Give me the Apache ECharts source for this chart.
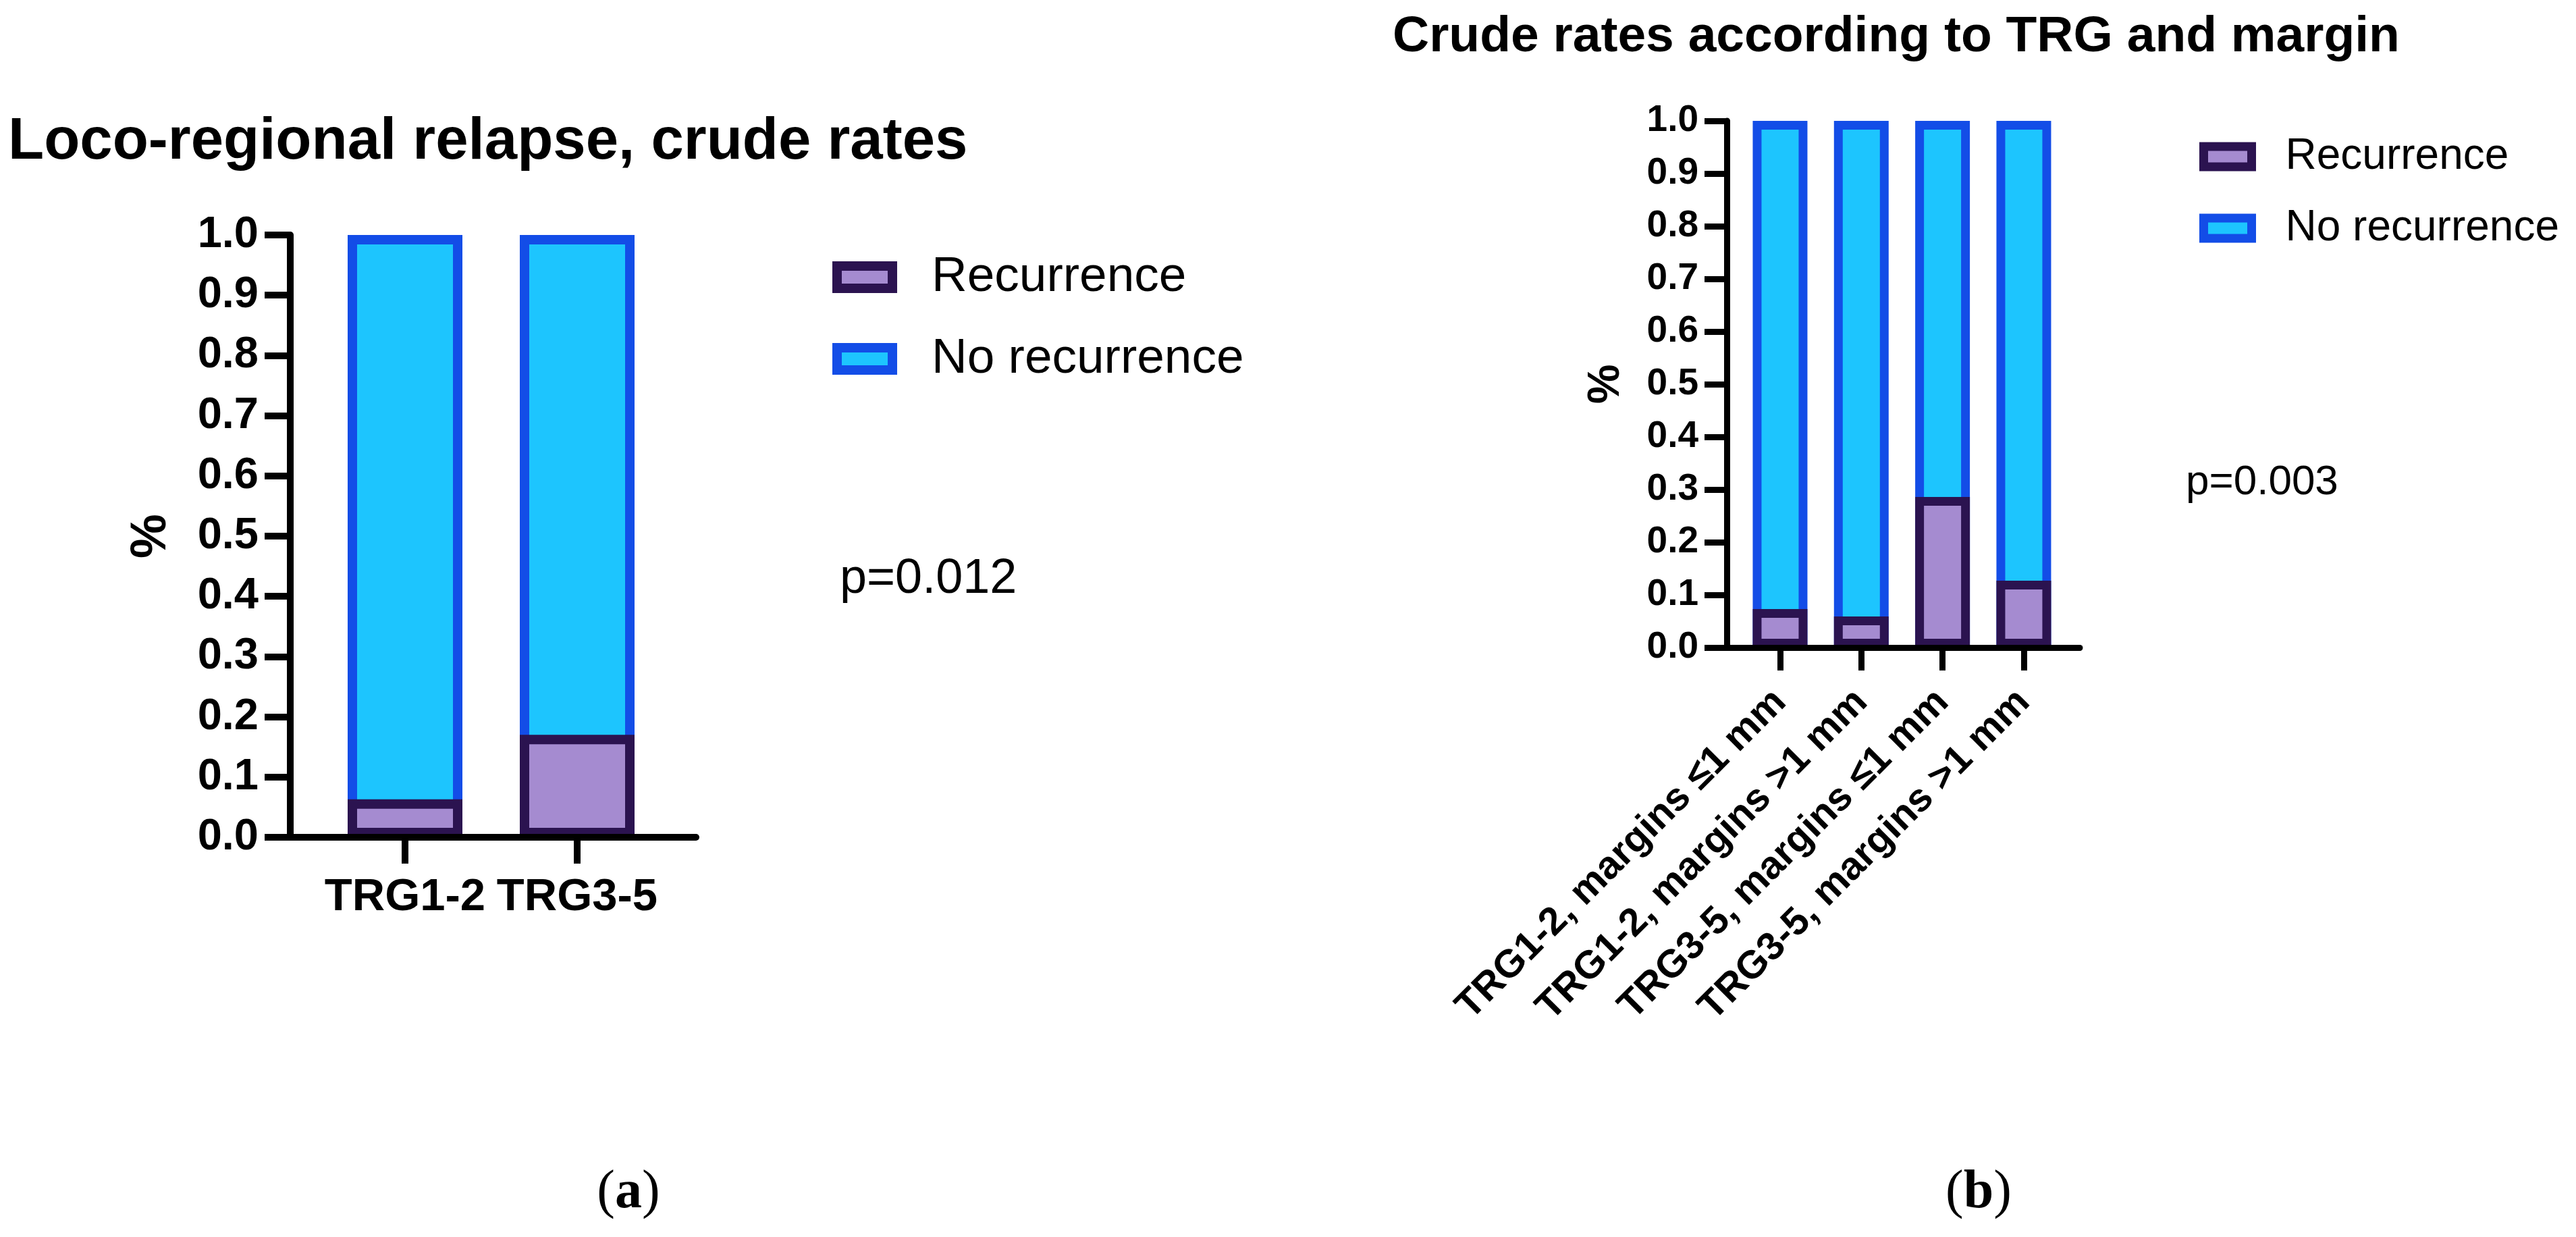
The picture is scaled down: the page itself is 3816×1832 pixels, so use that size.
<!DOCTYPE html>
<html>
<head>
<meta charset="utf-8">
<script src="https://cdn.jsdelivr.net/npm/echarts@6/dist/echarts.min.js"></script>
<style>
html,body{margin:0;padding:0;background:#ffffff;}
#c{width:3816px;height:1832px;}
</style>
</head>
<body>
<div id="c"></div>
<script>
// ---- data ----
const seriesNames = ['Recurrence', 'No recurrence'];
const catsA = ['TRG1-2', 'TRG3-5'];
const recA = [0.063, 0.17];
const noRecA = [0.937, 0.83];
const catsB = ['TRG1-2, margins \u22641 mm', 'TRG1-2, margins >1 mm', 'TRG3-5, margins \u22641 mm', 'TRG3-5, margins >1 mm'];
const recB = [0.073, 0.059, 0.286, 0.127];
const noRecB = [0.927, 0.941, 0.714, 0.873];
const yMin = 0, yMax = 1, yStep = 0.1;
const titleA = 'Loco-regional relapse, crude rates';
const titleB = 'Crude rates according to TRG and margin';
const pA = 'p=0.012';
const pB = 'p=0.003';
const panelA = 'a';
const panelB = 'b';

// stacked tops: "No recurrence" sits on top of "Recurrence"
const topA = noRecA.map((v, i) => v + recA[i]);
const topB = noRecB.map((v, i) => v + recB[i]);

// ---- style ----
const SANS = '"Liberation Sans", Arial, Helvetica, sans-serif';
const SERIF = '"Liberation Serif", "Times New Roman", Times, serif';
const REC_FILL = '#A58BD0', REC_LINE = '#2B1350';
const NO_FILL = '#1DC5FE', NO_LINE = '#134DE7';

function frameY(grid, fs, margin, tickLen, lw, nameSize, nameGap) {
  return {
    gridIndex: grid, type: 'value', min: yMin, max: yMax, interval: yStep, z: 4,
    axisLine: {show: true, lineStyle: {color: '#000', width: lw}},
    axisTick: {show: true, length: tickLen, lineStyle: {color: '#000', width: lw}},
    axisLabel: {formatter: v => v.toFixed(1), fontSize: fs, fontWeight: 'bold', color: '#000', margin: margin, fontFamily: SANS},
    splitLine: {show: false},
    name: '%', nameLocation: 'middle', nameGap: nameGap,
    nameTextStyle: {fontSize: nameSize, fontWeight: 'bold', color: '#000', fontFamily: SANS}
  };
}
function hiddenY(grid) {
  return {gridIndex: grid, type: 'value', min: yMin, max: yMax, interval: yStep, show: false};
}
function frameX(grid, lw) {
  return {
    gridIndex: grid, type: 'category', data: [''], z: 4,
    axisLine: {show: true, lineStyle: {color: '#000', width: lw}},
    axisTick: {show: false}, axisLabel: {show: false}, splitLine: {show: false}
  };
}
function barX(grid, cats, lw, tickLen, labelOpt) {
  return {
    gridIndex: grid, type: 'category', data: cats,
    axisLine: {show: false},
    axisTick: {show: true, alignWithLabel: true, length: tickLen, lineStyle: {color: '#000', width: lw}},
    axisLabel: Object.assign({interval: 0, color: '#000', fontWeight: 'bold', fontFamily: SANS}, labelOpt),
    splitLine: {show: false}
  };
}
function barSeries(name, axisIdx, data, width, bw, fill, line, z) {
  return {
    name: name, type: 'bar', xAxisIndex: axisIdx, yAxisIndex: axisIdx,
    data: data, barWidth: width, barGap: '-100%', z: z,
    itemStyle: {color: fill, borderColor: line, borderWidth: bw},
    emphasis: {disabled: true}
  };
}
function txt(x, y, text, size, weight) {
  return {type: 'text', x: x, y: y, silent: true,
    style: {text: text, fontSize: size, fontWeight: weight, fontFamily: SANS, fill: '#000', align: 'left', verticalAlign: 'top'}};
}
function panel(x, y, letter) {
  return {type: 'text', x: x, y: y, silent: true,
    style: {text: '{p|(}{b|' + letter + '}{p|)}', align: 'center', verticalAlign: 'top',
      rich: {p: {fontSize: 80, fontFamily: SERIF, fill: '#000'}, b: {fontSize: 80, fontFamily: SERIF, fontWeight: 'bold', fill: '#000'}}}};
}

const chart = echarts.init(document.getElementById('c'), null, {renderer: 'canvas'});
chart.setOption({
  backgroundColor: '#ffffff',
  animation: false,
  grid: [
    {left: 430, top: 348, width: 601, height: 892},
    {left: 472.5, top: 348, width: 510, height: 892},
    {left: 2558, top: 179, width: 523, height: 780},
    {left: 2576.8, top: 179, width: 481.3, height: 780}
  ],
  xAxis: [
    frameX(0, 10),
    barX(1, catsA, 10, 39, {fontSize: 67, margin: 56}),
    frameX(2, 9),
    barX(3, catsB, 9, 34, {fontSize: 58, margin: 72, rotate: 45})
  ],
  yAxis: [
    frameY(0, 65, 47, 38, 10, 74, 168),
    hiddenY(1),
    frameY(2, 55, 42, 33, 9, 66, 145),
    hiddenY(3)
  ],
  legend: [
    {orient: 'vertical', left: 1233, top: 374, padding: 0, itemWidth: 82, itemHeight: 33, itemGap: 48,
     icon: 'rect', data: seriesNames, selectedMode: false, itemStyle: {borderWidth: 14},
     textStyle: {fontSize: 73, color: '#000', fontFamily: SANS, padding: [0, 0, 0, 53]}},
    {orient: 'vertical', left: 3258, top: 200, padding: 0, itemWidth: 71, itemHeight: 30, itemGap: 42,
     icon: 'rect', data: seriesNames, selectedMode: false, itemStyle: {borderWidth: 13},
     textStyle: {fontSize: 64, color: '#000', fontFamily: SANS, padding: [0, 0, 0, 45]}}
  ],
  series: [
    barSeries(seriesNames[1], 1, topA, 170, 14, NO_FILL, NO_LINE, 2),
    barSeries(seriesNames[0], 1, recA, 170, 14, REC_FILL, REC_LINE, 3),
    barSeries(seriesNames[1], 3, topB, 81, 13, NO_FILL, NO_LINE, 2),
    barSeries(seriesNames[0], 3, recB, 81, 13, REC_FILL, REC_LINE, 3)
  ],
  graphic: [
    txt(12, 168, titleA, 87, 'bold'),
    txt(2063, 18, titleB, 75, 'bold'),
    txt(1244, 822, pA, 72, 'normal'),
    txt(3238, 684, pB, 62, 'normal'),
    panel(931, 1727, panelA),
    panel(2931, 1727, panelB)
  ]
});
</script>
</body>
</html>
